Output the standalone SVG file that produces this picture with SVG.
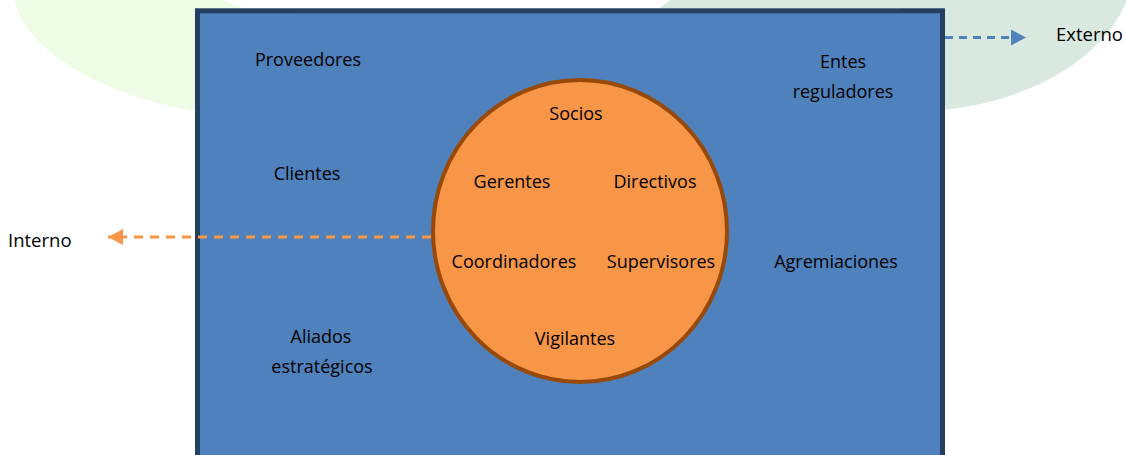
<svg xmlns="http://www.w3.org/2000/svg" width="1126" height="455" viewBox="0 0 1126 455">
  <style>
    .lbl { font-family: "Open Sans", "Liberation Sans", sans-serif; font-size: 18px; fill: #000000; text-anchor: middle; }
    .side { font-family: "Open Sans", "Liberation Sans", sans-serif; font-size: 18.5px; fill: #000000; }
    .dashO { fill: none; stroke: #f79646; stroke-width: 3; stroke-dasharray: 9 7; }
    .dashB { fill: none; stroke: #4f81bd; stroke-width: 3; stroke-dasharray: 8 6; }
  </style>
  <defs>
    <marker id="arrO" markerUnits="userSpaceOnUse" markerWidth="16" markerHeight="16" refX="15" refY="8" orient="auto">
      <path d="M0,0 L15,8 L0,16 Z" fill="#f79646"/>
    </marker>
    <marker id="arrB" markerUnits="userSpaceOnUse" markerWidth="16" markerHeight="16" refX="15" refY="8" orient="auto">
      <path d="M0,0 L15,8 L0,16 Z" fill="#4f81bd"/>
    </marker>
  </defs>

  <rect width="1126" height="455" fill="#ffffff"/>

  <g id="background">
    <path d="M15,0 C22,45 95,95 200,112 L300,112 L300,8 L243,8 L223,0 Z" fill="#effce5"/>
    <path d="M670,0 L1127,0 C1110,45 1050,98 945,110 L900,110 L900,8 L660,8 Z" fill="#dae9df"/>
  </g>

  <g id="externo-box">
    <rect x="197.5" y="10.8" width="745" height="470" fill="#4f81bd" stroke="#243f60" stroke-width="5"/>
  </g>

  <g id="interno-circle">
    <ellipse cx="580" cy="231" rx="147" ry="151" fill="#f79646" stroke="#984807" stroke-width="4"/>
  </g>

  <g id="connectors">
    <line class="dashO" x1="431" y1="237" x2="108" y2="237" marker-end="url(#arrO)"/>
    <line class="dashB" x1="945" y1="37.5" x2="1026" y2="37.5" marker-end="url(#arrB)"/>
  </g>

  <g id="node-proveedores"><text class="lbl" x="308" y="66">Proveedores</text></g>
  <g id="node-entes"><text class="lbl" x="843" y="68">Entes</text><text class="lbl" x="843" y="98">reguladores</text></g>
  <g id="node-clientes"><text class="lbl" x="307" y="180">Clientes</text></g>
  <g id="node-agremiaciones"><text class="lbl" x="836" y="268">Agremiaciones</text></g>
  <g id="node-aliados"><text class="lbl" x="321" y="343">Aliados</text><text class="lbl" x="322" y="373">estratégicos</text></g>

  <g id="node-socios"><text class="lbl" x="576" y="120">Socios</text></g>
  <g id="node-gerentes"><text class="lbl" x="512" y="188">Gerentes</text></g>
  <g id="node-directivos"><text class="lbl" x="655" y="188">Directivos</text></g>
  <g id="node-coordinadores"><text class="lbl" x="514" y="268">Coordinadores</text></g>
  <g id="node-supervisores"><text class="lbl" x="661" y="268">Supervisores</text></g>
  <g id="node-vigilantes"><text class="lbl" x="575" y="345">Vigilantes</text></g>

  <g id="label-interno"><text class="side" x="8" y="247">Interno</text></g>
  <g id="label-externo"><text class="side" x="1056" y="41">Externo</text></g>
</svg>
